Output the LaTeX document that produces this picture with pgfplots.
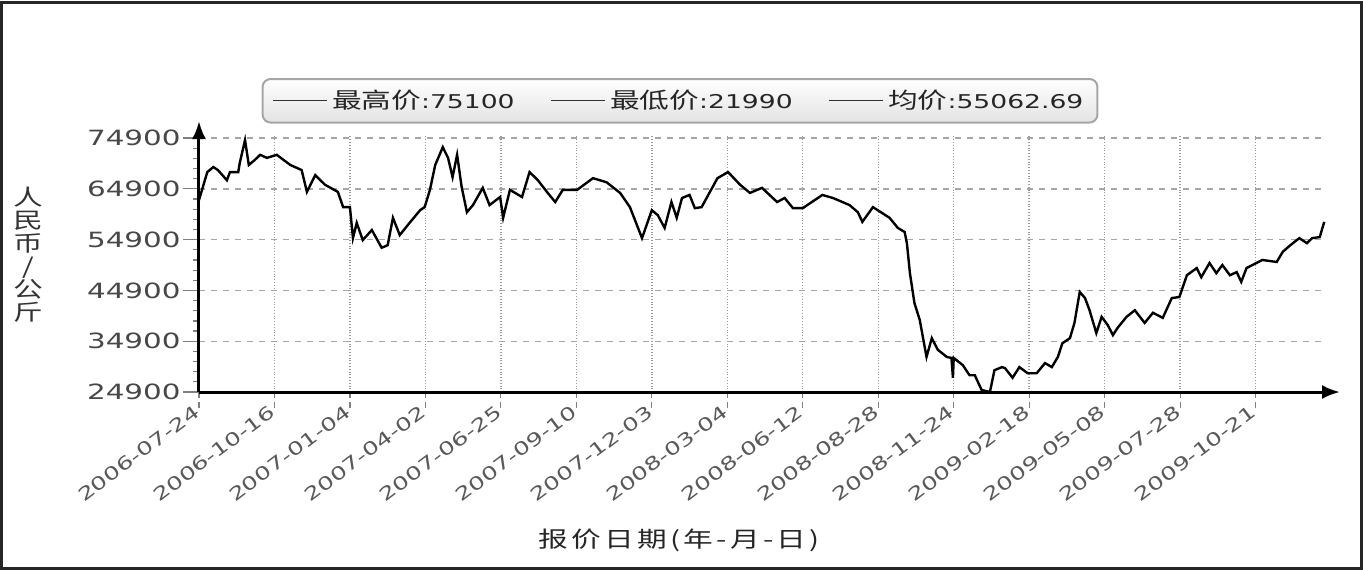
\documentclass[border=0pt]{standalone}
\usepackage{pgfplots}
\pgfplotsset{compat=1.18}
\usetikzlibrary{arrows.meta}
\usepackage{fontspec}
\setmainfont{DejaVu Sans}[FakeStretch=1.4]
\newfontfamily\cjk{Noto Sans CJK SC}[FakeStretch=1.35]
\newfontfamily\cjkls{Noto Sans CJK SC}[FakeStretch=1.35, LetterSpace=15]
\newcommand{\lc}[1]{{\cjk\fontsize{11}{11}\selectfont #1}}
\begin{document}
\begin{tikzpicture}
\useasboundingbox (-99.5pt,196pt) rectangle (582pt,-89pt);
\draw[line width=1.5pt, black!85] (-98.5pt,195pt) rectangle (581pt,-88pt);
\begin{axis}[
  at={(0pt,0pt)}, anchor=origin,
  scale only axis,
  width=563pt, height=128.5pt,
  xmin=0, xmax=14.92,
  ymin=24900, ymax=75500,
  clip=false,
  axis lines=left,
  axis line style={line width=1.5pt, -{Latex[length=9pt,width=7pt]}},
  x axis line style={shorten >=-7.5pt},
  y axis line style={shorten >=-7pt},
  xtick={0,1,...,14},
  xticklabels={2006-07-24,2006-10-16,2007-01-04,2007-04-02,2007-06-25,2007-09-10,2007-12-03,2008-03-04,2008-06-12,2008-08-28,2008-11-24,2009-02-18,2009-05-08,2009-07-28,2009-10-21},
  ytick={24900,34900,44900,54900,64900,74900},
  scaled y ticks=false,
  minor y tick num=4,
  /pgf/number format/1000 sep={},
  /pgf/number format/assume math mode=true,
  tick align=outside,
  major tick length=8pt,
  minor tick length=3pt,
  xtick style={gray, densely dashed, line width=0.6pt},
  ytick style={gray, line width=0.6pt},
  xmajorgrids, ymajorgrids,
  x grid style={gray!80, densely dotted, line width=0.7pt},
  y grid style={gray!70, dashed, line width=0.7pt},
  xticklabel style={rotate=37, anchor=east, font=\fontsize{9}{10}\selectfont, text=black!65, inner sep=1pt},
  yticklabel style={font=\fontsize{10.5}{12}\selectfont, text=black!72, inner sep=1pt},
  xlabel={报价日期(年-月-日)},
  xlabel style={at={(axis description cs:0.4262,0)}, anchor=center, yshift=-74pt, font=\cjkls\fontsize{11}{12}\selectfont, text=black!85},
  ylabel={人\\民\\币\\/\\公\\斤},
  ylabel style={rotate=-90, at={(axis description cs:-0.152,0.533)}, anchor=center, align=center, font=\cjk\fontsize{11}{11.5}\selectfont, text=black!80},
  legend columns=3,
  legend style={at={(axis description cs:0.4272,1.2218)}, anchor=north,
    draw=gray!70, line width=1pt, top color=white, bottom color=gray!22, rounded corners=4pt,
    font=\fontsize{9.5}{11}\selectfont, text=black!85,
    inner xsep=5pt, inner ysep=3.5pt},
  /tikz/every even column/.append style={column sep=16pt},
  legend cell align=left,
  legend image code/.code={\draw[#1] (0pt,0pt) -- (27pt,0pt);},
]
\addplot[black, line width=1.2pt, forget plot] coordinates {
(0.00,62700) (0.04,64700) (0.11,68200) (0.19,69200) (0.25,68600) (0.37,66600)
(0.41,68200) (0.52,68200) (0.54,70000) (0.61,74500) (0.66,69600) (0.74,70600)
(0.81,71600) (0.90,71000) (1.03,71600) (1.21,69600) (1.36,68600) (1.43,64300)
(1.54,67600) (1.67,65700) (1.84,64300) (1.91,61300) (2.00,61300) (2.04,55200)
(2.09,58200) (2.17,54800) (2.29,56800) (2.42,53300) (2.50,53800) (2.57,59200)
(2.66,55800) (2.79,58200) (2.93,60700) (2.99,61300) (3.06,64700) (3.13,69600)
(3.23,73100) (3.30,71000) (3.36,67200) (3.42,71600) (3.48,65300) (3.55,60300)
(3.63,61700) (3.76,65100) (3.85,61700) (3.99,63300) (4.03,59200) (4.12,64700)
(4.28,63300) (4.38,68200) (4.49,66600) (4.61,64300) (4.72,62300) (4.82,64700)
(5.01,64700) (5.22,67000) (5.40,66200) (5.58,64100) (5.71,61300) (5.87,55200)
(6.00,60700) (6.08,59700) (6.17,57200) (6.26,62300) (6.33,59200) (6.40,63100)
(6.50,63700) (6.57,61100) (6.66,61300) (6.77,64300) (6.87,67000) (7.01,68200)
(7.17,65700) (7.30,64100) (7.46,65100) (7.66,62300) (7.76,63100) (7.87,61100)
(8.00,61100) (8.16,62700) (8.26,63700) (8.40,63100) (8.62,61700) (8.73,60300)
(8.79,58400) (8.93,61300) (9.15,59200) (9.26,57200) (9.35,56400) (9.38,54200)
(9.42,48300) (9.48,42400) (9.55,39100) (9.64,31800) (9.71,35500) (9.79,33200)
(9.91,31800) (9.97,31600) (9.99,27700) (10.00,31600) (10.12,30200) (10.21,28200)
(10.28,28200) (10.37,25300) (10.48,24900) (10.54,29200) (10.64,29800) (10.68,29600)
(10.78,27700) (10.87,29800) (10.98,28600) (11.10,28600) (11.21,30600) (11.30,29800)
(11.38,31800) (11.44,34500) (11.54,35500) (11.60,38500) (11.67,44600) (11.74,43400)
(11.80,41000) (11.89,36500) (11.96,39700) (12.04,38100) (12.11,36100) (12.17,37500)
(12.29,39700) (12.40,41000) (12.53,38500) (12.64,40500) (12.77,39500) (12.89,43400)
(12.99,43600) (13.09,47900) (13.22,49300) (13.28,47500) (13.39,50300) (13.48,48300)
(13.56,49900) (13.66,47900) (13.75,48500) (13.81,46600) (13.88,49300) (14.01,50300)
(14.09,50900) (14.28,50500) (14.36,52500) (14.46,53800) (14.58,55200) (14.68,54200)
(14.75,55200) (14.85,55400) (14.91,58400)
};
\addlegendimage{black!80, line width=0.7pt}
\addlegendentry{\lc{最高价}:75100}
\addlegendimage{black!80, line width=0.7pt}
\addlegendentry{\lc{最低价}:21990}
\addlegendimage{black!80, line width=0.7pt}
\addlegendentry{\lc{均价}:55062.69}
\end{axis}
\end{tikzpicture}
\end{document}
